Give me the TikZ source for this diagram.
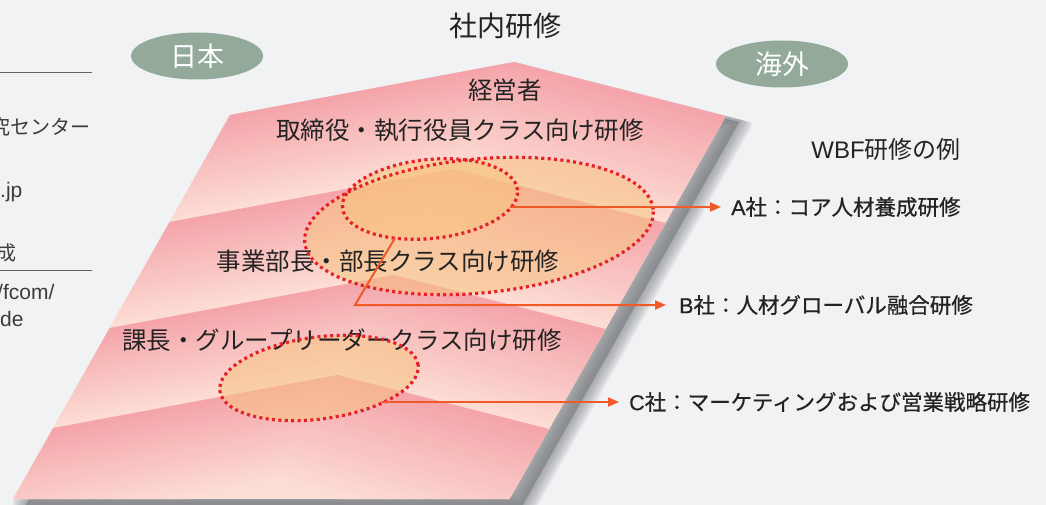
\documentclass[tikz,border=0pt]{standalone}
\usepackage{fontspec}
\setmainfont{Noto Sans CJK JP}
\newfontfamily\labfont[FakeBold=0.6]{Noto Sans CJK JP}
\newfontfamily\latfont{Liberation Sans}
\newfontfamily\latbfont[FakeBold=0.6]{Liberation Sans}
\usetikzlibrary{shapes.geometric,arrows.meta,calc}
\definecolor{bg}{RGB}{241,242,244}
\definecolor{pinkA}{RGB}{244,164,170}
\definecolor{pinkB}{RGB}{252,221,212}
\definecolor{sage}{RGB}{147,170,155}
\definecolor{dotred}{RGB}{230,32,40}
\definecolor{arrowc}{RGB}{240,90,40}
\definecolor{txt}{RGB}{35,35,35}
\definecolor{ofill}{RGB}{248,196,128}
\definecolor{shadowc}{RGB}{120,123,128}
\definecolor{sidec}{RGB}{60,60,60}
\begin{document}
\begin{tikzpicture}[x=1pt,y=-1pt,
  lvl/.style={font=\fontsize{24.5}{28}\selectfont, text=txt, inner sep=0pt},
  head/.style={font=\fontsize{28}{32}\selectfont, text=txt, inner sep=0pt},
  tag/.style={ellipse, fill=sage, text=white, minimum width=132pt, minimum height=47pt, inner sep=0pt, font=\fontsize{27}{30}\selectfont},
  lab/.style={font=\fontsize{21.5}{24}\labfont, text=txt, inner sep=0pt, anchor=west},
  ex/.style={font=\fontsize{24}{28}\selectfont, text=txt, inner sep=0pt},
  side/.style={font=\fontsize{20}{24}\selectfont, text=sidec, inner sep=0pt},
  sidelat/.style={font=\fontsize{21}{24}\latfont, text=sidec, inner sep=0pt},
  sideline/.style={draw=sidec!80, line width=1pt},
  ofl/.style={ellipse, fill=ofill, fill opacity=0.55, inner sep=0pt},
  ring/.style={ellipse, draw=dotred, line width=3.2pt, dash pattern=on 3pt off 3.4pt, inner sep=0pt},
  arr/.style={draw=arrowc, line width=2pt, -{Triangle[length=11pt,width=9pt]}}
]
\useasboundingbox (0,0) rectangle (1046,505);
\fill[bg] (0,0) rectangle (1046,505);
\clip (0,0) rectangle (1046,505);

% shadow
\begin{scope}
\clip (0,158) -- (230,115) -- (514,62) -- (726,116) -- (800,135) -- (800,520) -- (0,520) -- cycle;
\foreach \w in {0,3,6,9,12,15,18,21,24,27}{
  \filldraw[shadowc, opacity=0.085, line width=\w pt, line join=round, shift={(13,6)}]
    (230,115) -- (514,62) -- (726,116) -- (509.6,499) -- (13,499) -- cycle;
}
\end{scope}

% banded sheet
\begin{scope}
\clip (230,115) -- (514,62) -- (726,116) -- (509.6,499) -- (13,499) -- cycle;
\fill[pinkB] (0,0) rectangle (1046,505);
\foreach \ta/\tb in {0/107,107/213,213/313,313/420}{
  \foreach \i in {0,...,29}{
    \pgfmathsetmacro{\sa}{\ta+\i*(\tb-\ta)/30}
    \pgfmathsetmacro{\sb}{\sa+(\tb-\ta)/30+0.8}
    \pgfmathsetmacro{\p}{\i*100/29}
    \fill[pinkB!\p!pinkA] (230-0.565*\sa,115+\sa) -- (514-0.565*\sa,62+\sa) -- (726-0.565*\sa,116+\sa)
      -- (726-0.565*\sb,116+\sb) -- (514-0.565*\sb,62+\sb) -- (230-0.565*\sb,115+\sb) -- cycle;
  }
}
\end{scope}

% left cropped texts
\draw[sideline] (0,73) -- (92,73);
\node[side, anchor=east] (s1) at (91,127) {究センター};
\node[sidelat, anchor=west] (s2) at (0,192) {.jp};
\node[side, anchor=west] (s3) at (-4,253) {成};
\draw[sideline] (0,270) -- (92,270);
\node[sidelat, anchor=west] (s4) at (-3,292) {/fcom/};
\node[sidelat, anchor=west] (s5) at (0,319) {de};

% ellipse fills
\node[ofl, minimum width=350pt, minimum height=134pt, rotate=5.4] (fb) at (479,226) {};
\node[ofl, minimum width=176pt, minimum height=79pt, rotate=5.8] (fa) at (430,199) {};
\node[ofl, minimum width=200pt, minimum height=82pt, rotate=7.5] (fc) at (319,378) {};

% texts
\node[head] (title) at (505,26) {社内研修};
\node[tag] (jp) at (197,56) {日本};
\node[tag] (ov) at (782,64) {海外};
\node[lvl] (l0) at (505,90) {経営者};
\node[lvl] (l1) at (460,130) {取締役・執行役員クラス向け研修};
\node[lvl] (l2) at (388,261) {事業部長・部長クラス向け研修};
\node[lvl] (l3) at (342,340) {課長・グループリーダークラス向け研修};
\node[ex] (wbf) at (886,149) {{\latfont WBF}研修の例};
\node[lab] (la) at (731,207) {{\latbfont A}社：コア人材養成研修};
\node[lab] (lb) at (679,305) {{\latbfont B}社：人材グローバル融合研修};
\node[lab] (lc) at (629,402) {{\latbfont C}社：マーケティングおよび営業戦略研修};

% dotted rings
\node[ring, minimum width=350pt, minimum height=134pt, rotate=5.4] (eb) at (479,226) {};
\node[ring, minimum width=176pt, minimum height=79pt, rotate=5.8] (ea) at (430,199) {};
\node[ring, minimum width=200pt, minimum height=82pt, rotate=7.5] (ec) at (319,378) {};

% connectors
\coordinate (a0) at (510,207);
\coordinate (b0) at (395,238);
\coordinate (b1) at (355,305);
\coordinate (c0) at (382,402);
\draw[arr, shorten >=10pt] (a0) -- (a0 -| la.west);
\draw[arr, shorten >=13pt] (b0) -- (b1) -- (b1 -| lb.west);
\draw[arr, shorten >=10pt] (c0) -- (c0 -| lc.west);
\end{tikzpicture}
\end{document}
